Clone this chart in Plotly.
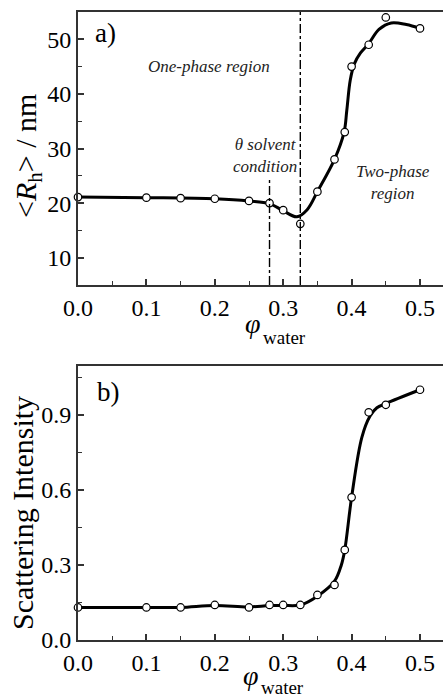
import plotly.graph_objects as go

# ---------------- data ----------------
# panel a) measured hydrodynamic radius
phi_a = [0.0, 0.1, 0.15, 0.2, 0.25, 0.28, 0.30, 0.325, 0.35, 0.375, 0.39, 0.40, 0.425, 0.45, 0.50]
rh_a = [21.1, 21.0, 20.9, 20.8, 20.4, 20.0, 18.7, 16.2, 22.1, 28.0, 33.0, 45.0, 49.0, 54.0, 52.0]
# panel a) guide curve (read from picture)
curve_x_a = [0.0, 0.1, 0.2, 0.25, 0.28, 0.30, 0.32, 0.335, 0.35, 0.375, 0.389, 0.393, 0.398,
             0.404, 0.413, 0.425, 0.44, 0.458, 0.48, 0.50]
curve_y_a = [21.1, 21.0, 20.8, 20.4, 19.9, 18.6, 17.5, 18.8, 22.1, 28.0, 33.0, 37.0, 42.5,
             45.5, 47.5, 49.2, 51.8, 53.0, 52.7, 52.0]

# panel b) scattering intensity
phi_b = [0.0, 0.1, 0.15, 0.2, 0.25, 0.28, 0.30, 0.325, 0.35, 0.375, 0.39, 0.40, 0.425, 0.45, 0.50]
int_b = [0.13, 0.13, 0.13, 0.14, 0.13, 0.14, 0.14, 0.14, 0.18, 0.22, 0.36, 0.57, 0.91, 0.94, 1.00]
curve_x_b = [0.0, 0.1, 0.15, 0.2, 0.25, 0.28, 0.30, 0.325, 0.35, 0.375, 0.385, 0.39, 0.40,
             0.415, 0.427, 0.437, 0.45, 0.50]
curve_y_b = [0.13, 0.13, 0.13, 0.138, 0.132, 0.138, 0.138, 0.14, 0.175, 0.235, 0.30, 0.36, 0.57,
             0.81, 0.895, 0.928, 0.945, 1.0]

# vertical reference lines in panel a)
theta_phi = 0.28
theta_top = 24.7
phase_phi = 0.325

x_ticks = [0.0, 0.1, 0.2, 0.3, 0.4, 0.5]
x_labels = ["0.0", "0.1", "0.2", "0.3", "0.4", "0.5"]
ya_ticks = [10, 20, 30, 40, 50]
yb_ticks = [0.0, 0.3, 0.6, 0.9]
yb_labels = ["0.0", "0.3", "0.6", "0.9"]

# ---------------- figure ----------------
FONT = "Liberation Serif, Times New Roman, serif"
AX = "#333333"
L, R, T, B = 78, 0, 12, 57
W, H = 443, 697
PW, PH = W - L - R, H - T - B


def px_x(px):
    return (px - L) / PW


def px_y(py):
    return 1 - (py - T) / PH


top_dom = [px_y(285), 1.0]
bot_dom = [0.0, px_y(366)]

fig = go.Figure()

line_style = dict(color="black", width=3, shape="spline", smoothing=1.0)
marker_style = dict(symbol="circle", size=7.5, color="white", line=dict(color="black", width=1.2))

fig.add_trace(go.Scatter(x=curve_x_a, y=curve_y_a, mode="lines", line=line_style,
                         xaxis="x", yaxis="y", hoverinfo="skip", showlegend=False))
fig.add_trace(go.Scatter(x=phi_a, y=rh_a, mode="markers", marker=marker_style,
                         xaxis="x", yaxis="y", showlegend=False, cliponaxis=False))
fig.add_trace(go.Scatter(x=curve_x_b, y=curve_y_b, mode="lines", line=line_style,
                         xaxis="x2", yaxis="y2", hoverinfo="skip", showlegend=False))
fig.add_trace(go.Scatter(x=phi_b, y=int_b, mode="markers", marker=marker_style,
                         xaxis="x2", yaxis="y2", showlegend=False, cliponaxis=False))

xr = [0, px_x(W) * 0.5 / px_x(420)]

common_x = dict(range=xr, tickmode="array", tickvals=x_ticks, ticktext=x_labels,
                ticks="inside", ticklen=6, tickwidth=1.5, tickcolor=AX,
                showline=True, linecolor=AX, linewidth=2, mirror=True,
                showgrid=False, zeroline=False,
                tickfont=dict(family=FONT, size=24, color="black"),
                minor=dict(dtick=0.05, tick0=0, ticks="inside", ticklen=4, tickcolor=AX, tickwidth=1.2))
common_y = dict(ticks="inside", ticklen=6, tickwidth=1.5, tickcolor=AX,
                showline=True, linecolor=AX, linewidth=2, mirror=False,
                showgrid=False, zeroline=False,
                tickfont=dict(family=FONT, size=24, color="black"))

fig.update_layout(
    width=W, height=H,
    margin=dict(l=L, r=R, t=T, b=B),
    paper_bgcolor="white", plot_bgcolor="white",
    xaxis=dict(common_x, domain=[0, 1], anchor="y"),
    yaxis=dict(common_y, domain=top_dom, anchor="x", range=[5, 55],
               tickmode="array", tickvals=ya_ticks,
               minor=dict(dtick=5, tick0=0, ticks="inside", ticklen=4, tickcolor=AX, tickwidth=1.2)),
    xaxis2=dict(common_x, domain=[0, 1], anchor="y2"),
    yaxis2=dict(common_y, domain=bot_dom, anchor="x2", range=[0, 1.095],
                tickmode="array", tickvals=yb_ticks, ticktext=yb_labels,
                minor=dict(dtick=0.15, tick0=0, ticks="inside", ticklen=4, tickcolor=AX, tickwidth=1.2)),
    showlegend=False,
)

# vertical dash-dot lines
fig.add_shape(type="line", xref="x", yref="y", x0=theta_phi, x1=theta_phi, y0=5, y1=theta_top,
              line=dict(color="black", width=1.4, dash="dashdot"))
fig.add_shape(type="line", xref="x", yref="y", x0=phase_phi, x1=phase_phi, y0=5, y1=55,
              line=dict(color="black", width=1.4, dash="dashdot"))

C = dict(xanchor="center", yanchor="middle", showarrow=False)
ann = []
# panel labels
ann.append(dict(text="a)", x=0.022, y=51.2, xref="x", yref="y", xanchor="left", yanchor="middle",
                showarrow=False, font=dict(family=FONT, size=27, color="black")))
ann.append(dict(text="b)", x=0.025, y=0.99, xref="x2", yref="y2", xanchor="left", yanchor="middle",
                showarrow=False, font=dict(family=FONT, size=27, color="black")))
# region texts
it = dict(family=FONT, size=17, color="#222222")
ann.append(dict(C, text="<i>One-phase region</i>", x=0.192, y=45.1, xref="x", yref="y", font=it))
ann.append(dict(C, text="<i>θ solvent<br>condition</i>", x=0.273, y=28.7, xref="x", yref="y",
                font=it, align="center"))
ann.append(dict(C, text="<i>Two-phase<br>region</i>", x=0.461, y=23.7, xref="x", yref="y",
                font=it, align="center"))
# axis titles
ann.append(dict(C, text="&lt;<i>R</i><sub>h</sub>&gt; / nm", x=px_x(28), y=px_y(156),
                xref="paper", yref="paper", textangle=-90,
                font=dict(family=FONT, size=30, color="black")))
ann.append(dict(C, text="Scattering Intensity", x=px_x(22), y=px_y(513),
                xref="paper", yref="paper", textangle=-90,
                font=dict(family=FONT, size=30, color="black")))
for (phx, phy, wx, wy) in [(253, 323, 284, 337), (251, 675, 282, 687)]:
    ann.append(dict(C, text="<i>φ</i>", x=px_x(phx), y=px_y(phy), xref="paper", yref="paper",
                    font=dict(family=FONT, size=28, color="black")))
    ann.append(dict(C, text="water", x=px_x(wx), y=px_y(wy), xref="paper", yref="paper",
                    font=dict(family=FONT, size=19, color="black")))

fig.update_layout(annotations=ann)

fig.write_html("out.html")
